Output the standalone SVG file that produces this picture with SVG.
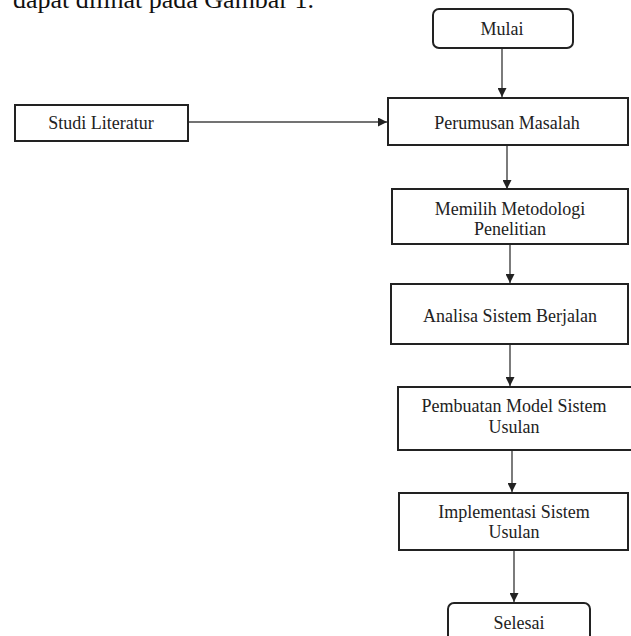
<svg xmlns="http://www.w3.org/2000/svg" width="631" height="636" viewBox="0 0 631 636">
  <defs>
    <style>
      .box { fill: #ffffff; stroke: #222222; stroke-width: 2; }
      .lbl { font-family: "Liberation Serif", "Times New Roman", serif; font-size: 18px; fill: #222222; text-anchor: middle; }
      .head { font-family: "Liberation Serif", "Times New Roman", serif; font-size: 26px; fill: #111111; }
      .edge { fill: none; stroke: #444444; stroke-width: 1.4; marker-end: url(#arrow); }
    </style>
    <marker id="arrow" viewBox="0 0 10 10" refX="10" refY="5" markerWidth="9" markerHeight="9" markerUnits="userSpaceOnUse" orient="auto">
      <path d="M0,0 L10,5 L0,10 Z" fill="#222222"/>
    </marker>
  </defs>

  <rect width="631" height="636" fill="#ffffff"/>

  <!-- running text line above the flowchart -->
  <text class="head" x="13" y="8">dapat dilihat pada Gambar 1.</text>

  <g id="connectors">
    <line class="edge" x1="502" y1="48" x2="502" y2="97"/>
    <line class="edge" x1="188" y1="122" x2="387" y2="122"/>
    <line class="edge" x1="507" y1="145" x2="507" y2="189"/>
    <line class="edge" x1="510" y1="244" x2="510" y2="283"/>
    <line class="edge" x1="510" y1="344" x2="510" y2="386"/>
    <line class="edge" x1="512" y1="450" x2="512" y2="492"/>
    <line class="edge" x1="514" y1="550" x2="514" y2="602"/>
  </g>

  <g id="mulai">
    <rect class="box" x="433" y="9" width="140" height="39" rx="6"/>
    <text class="lbl" x="502" y="35">Mulai</text>
  </g>

  <g id="studi-literatur">
    <rect class="box" x="15" y="105" width="173" height="36"/>
    <text class="lbl" x="101" y="129">Studi Literatur</text>
  </g>

  <g id="perumusan-masalah">
    <rect class="box" x="388" y="98" width="240" height="47"/>
    <text class="lbl" x="507" y="129">Perumusan Masalah</text>
  </g>

  <g id="memilih-metodologi">
    <rect class="box" x="392" y="189" width="236" height="55"/>
    <text class="lbl" x="510" y="215">Memilih Metodologi</text>
    <text class="lbl" x="510" y="235">Penelitian</text>
  </g>

  <g id="analisa-sistem">
    <rect class="box" x="391" y="284" width="237" height="60"/>
    <text class="lbl" x="510" y="322">Analisa Sistem Berjalan</text>
  </g>

  <g id="pembuatan-model">
    <rect class="box" x="398" y="387" width="240" height="63"/>
    <text class="lbl" x="514" y="412">Pembuatan Model Sistem</text>
    <text class="lbl" x="514" y="433">Usulan</text>
  </g>

  <g id="implementasi">
    <rect class="box" x="399" y="493" width="229" height="57"/>
    <text class="lbl" x="514" y="518">Implementasi Sistem</text>
    <text class="lbl" x="514" y="538">Usulan</text>
  </g>

  <g id="selesai">
    <rect class="box" x="448" y="603" width="142" height="45" rx="6"/>
    <text class="lbl" x="519" y="629">Selesai</text>
  </g>
</svg>
